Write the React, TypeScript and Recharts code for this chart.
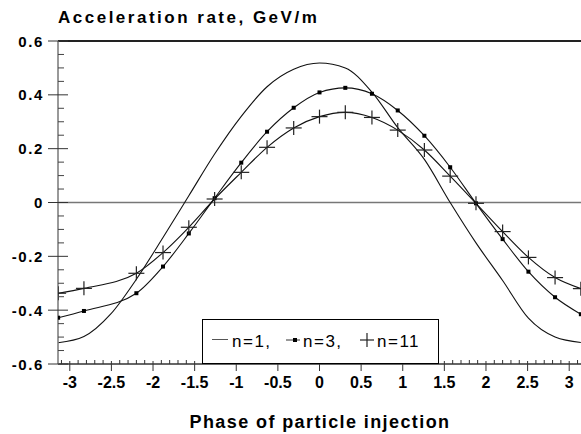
import { LineChart, Line, XAxis, YAxis, ReferenceLine } from "recharts";

// n=1 curve
const phaseLine = [-3.14, -2.83, -2.51, -2.2, -1.88, -1.57, -1.26, -0.94, -0.63, -0.31, 0, 0.31, 0.63, 0.94, 1.26, 1.57, 1.88, 2.2, 2.51, 2.83, 3.14];
const rateN1 = [-0.521, -0.498, -0.415, -0.285, -0.13, 0.025, 0.18, 0.32, 0.43, 0.495, 0.518, 0.5, 0.41, 0.278, 0.16, 0.0, -0.15, -0.29, -0.43, -0.5, -0.52];

// n=3 and n=11, read at the markers (no marker at -2.51 in the original)
const phaseMarks = [-3.14, -2.83, -2.2, -1.88, -1.57, -1.26, -0.94, -0.63, -0.31, 0, 0.31, 0.63, 0.94, 1.26, 1.57, 1.88, 2.2, 2.51, 2.83, 3.14];
const rateN3 = [-0.428, -0.403, -0.337, -0.238, -0.115, 0.016, 0.148, 0.263, 0.352, 0.409, 0.426, 0.404, 0.342, 0.248, 0.131, -0.003, -0.136, -0.257, -0.352, -0.415];
const rateN11 = [-0.337, -0.319, -0.263, -0.186, -0.092, 0.013, 0.112, 0.205, 0.277, 0.319, 0.335, 0.316, 0.269, 0.195, 0.098, -0.003, -0.108, -0.204, -0.279, -0.32];

const xMajorTicks = [-3, -2.5, -2, -1.5, -1, -0.5, 0, 0.5, 1, 1.5, 2, 2.5, 3];
const xMinorTicks = Array.from({ length: 63 }, (_, i) => +(-3.1 + i * 0.1).toFixed(1)).filter(
  (v) => Math.abs(v * 2 - Math.round(v * 2)) > 1e-6
);
const yMajorTicks = [-0.6, -0.4, -0.2, 0, 0.2, 0.4, 0.6];
const yMinorTicks = [-0.55, -0.5, -0.45, -0.35, -0.3, -0.25, -0.15, -0.1, -0.05, 0.05, 0.1, 0.15, 0.25, 0.3, 0.35, 0.45, 0.5, 0.55];

const n1Data = phaseLine.map((x, i) => ({ x, y: rateN1[i] }));
const n3Data = phaseMarks.map((x, i) => ({ x, y: rateN3[i] }));
const n11Data = phaseMarks.map((x, i) => ({ x, y: rateN11[i] }));

const FONT = '"Liberation Sans", Arial, Helvetica, sans-serif';
const INK = "#111";

function XTick({ x, y, payload }: any) {
  const v = payload.value;
  if (!xMajorTicks.includes(v)) {
    return <line x1={x} x2={x} y1={y - 4} y2={y} stroke="#333" />;
  }
  return (
    <g>
      <line x1={x} x2={x} y1={y - 3} y2={y + 7} stroke="#333" />
      <text x={x} y={y + 24} textAnchor="middle" fontFamily={FONT} fontWeight="bold" fontSize={16} fill="#000">
        {String(v)}
      </text>
    </g>
  );
}

function YTick({ x, y, payload }: any) {
  const v = payload.value;
  if (!yMajorTicks.includes(v)) {
    return <line x1={x} x2={x + 6} y1={y} y2={y} stroke="#444" />;
  }
  return (
    <g>
      <line x1={x - 10} x2={x + 10} y1={y} y2={y} stroke="#333" />
      <text x={x - 14} y={y + 5.5} textAnchor="end" fontFamily={FONT} fontWeight="bold" fontSize={15} letterSpacing={1.6} fill="#000">
        {String(v)}
      </text>
    </g>
  );
}

function SquareDot({ cx, cy }: any) {
  return <rect x={cx - 2} y={cy - 2} width={4} height={4} fill="#000" />;
}

function PlusDot({ cx, cy }: any) {
  return (
    <g stroke="#222" strokeWidth={1.2}>
      <line x1={cx - 8} x2={cx + 8} y1={cy} y2={cy} />
      <line x1={cx} x2={cx} y1={cy - 7} y2={cy + 7} />
    </g>
  );
}

function LegendBox() {
  const txt = { fontFamily: FONT, fontSize: 17, letterSpacing: 1.5, fill: "#000" };
  return (
    <svg width={237} height={45} style={{ display: "block" }}>
      <rect x={0.5} y={0.5} width={236} height={44} fill="#fff" stroke="#000" />
      <line x1={10} x2={26} y1={20.5} y2={20.5} stroke="#555" />
      <text x={30} y={28} {...txt}>n=1,</text>
      <line x1={84} x2={98} y1={21} y2={21} stroke="#333" />
      <rect x={91} y={19} width={4} height={4} fill="#000" />
      <text x={101} y={28} {...txt}>n=3,</text>
      <g stroke="#222" strokeWidth={1.2}>
        <line x1={158} x2={172} y1={21} y2={21} />
        <line x1={165} x2={165} y1={14} y2={28} />
      </g>
      <text x={175} y={28} {...txt}>n=11</text>
    </svg>
  );
}

export default function App() {
  return (
    <div style={{ position: "absolute", left: 0, top: 0, width: 581, height: 434, background: "#fff" }}>
      <div
        style={{
          position: "absolute",
          left: 58,
          top: 9,
          fontFamily: FONT,
          fontWeight: "bold",
          fontSize: 17,
          lineHeight: "17px",
          letterSpacing: 2.5,
          whiteSpace: "nowrap",
        }}
      >
        Acceleration rate, GeV/m
      </div>
      <LineChart width={581} height={434} margin={{ top: 41, right: 0, bottom: 0, left: 0 }}>
        <XAxis
          type="number"
          dataKey="x"
          domain={[-Math.PI, Math.PI]}
          allowDataOverflow
          ticks={[...xMajorTicks, ...xMinorTicks]}
          interval={0}
          tickSize={0}
          tickMargin={0}
          tickLine={false}
          tick={<XTick />}
          axisLine={{ stroke: "#333", strokeWidth: 1.5 }}
          height={70}
        />
        <YAxis
          type="number"
          domain={[-0.6, 0.6]}
          allowDataOverflow
          ticks={[...yMajorTicks, ...yMinorTicks]}
          interval={0}
          tickSize={0}
          tickMargin={0}
          tickLine={false}
          tick={<YTick />}
          axisLine={{ stroke: "#777", strokeWidth: 1.5 }}
          width={58}
        />
        <ReferenceLine y={0.6} stroke="#222" strokeWidth={2} />
        <ReferenceLine y={0} stroke="#777" strokeWidth={1.5} />
        <Line data={n1Data} dataKey="y" type="monotone" stroke={INK} strokeWidth={1.1} dot={false} isAnimationActive={false} name="n=1" />
        <Line data={n3Data} dataKey="y" type="monotone" stroke={INK} strokeWidth={1.1} dot={<SquareDot />} isAnimationActive={false} name="n=3" />
        <Line data={n11Data} dataKey="y" type="monotone" stroke={INK} strokeWidth={1.1} dot={<PlusDot />} isAnimationActive={false} name="n=11" />
      </LineChart>
      <div style={{ position: "absolute", left: 202, top: 319 }}>
        <LegendBox />
      </div>
      <div
        style={{
          position: "absolute",
          left: 120,
          width: 400,
          top: 413,
          textAlign: "center",
          fontFamily: FONT,
          fontWeight: "bold",
          fontSize: 18,
          lineHeight: "18px",
          letterSpacing: 1.4,
          whiteSpace: "nowrap",
        }}
      >
        Phase of particle injection
      </div>
    </div>
  );
}
